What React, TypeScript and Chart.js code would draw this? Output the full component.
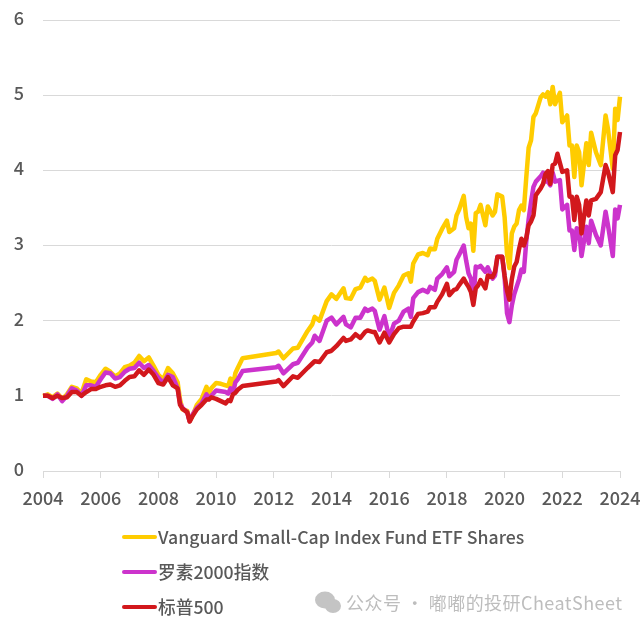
import React, { useEffect, useRef } from "react";
import { Chart, registerables } from "chart.js";

Chart.register(...registerables);

const FONT = '"Noto Sans CJK SC", "Noto Sans", sans-serif';
const TEXT = "#595959";

const seriesNames = ["Vanguard Small-Cap Index Fund ETF Shares", "罗素2000指数", "标普500"];
const seriesColors = ["#FFCC00", "#CC33CC", "#D2181C"];
const watermark = "公众号 · 嘟嘟的投研CheatSheet";

// months since Jan 2004; there is no data between month 83 and month 97
const months = [
  0, 2, 4, 6, 8, 10, 12, 14, 16, 18, 20, 22, 24, 26, 28, 30, 32, 34, 36, 38, 40, 42, 44, 46, 48, 50, 52, 54,
  56, 57, 58, 60, 61, 62, 64, 66, 68, 69, 70, 72, 74, 76, 77, 78, 79, 80, 81, 83,
  97, 98, 100, 104, 106, 110, 112, 113, 115, 118, 120, 122, 125, 126, 128, 130, 132, 134, 135, 137, 138, 140, 142, 144, 146, 148,
  150, 152, 153, 154, 156, 158, 160, 161, 163, 164, 166, 168, 169, 171, 172, 173, 175, 176, 177, 178, 179, 180, 181, 182, 184, 185, 187, 188, 189, 191, 192, 193,
  194, 195, 196, 197, 198, 199, 200, 201, 202, 203,
  204, 205, 207, 208, 209, 210, 211, 212, 213, 214, 215, 216, 218, 219, 220, 221, 222, 223, 224, 226, 227, 228, 230, 232, 234, 235, 237, 238, 239, 240,
];

const vanguard = [
  1.0, 1.02, 0.98, 1.03, 0.96, 1.02, 1.12, 1.1, 1.03, 1.22, 1.19, 1.18, 1.28, 1.36, 1.32, 1.26, 1.3, 1.38, 1.4, 1.44, 1.53, 1.46, 1.51, 1.4, 1.28, 1.22, 1.37, 1.3,
  1.18, 0.95, 0.82, 0.8, 0.66, 0.72, 0.88, 0.96, 1.12, 1.04, 1.1, 1.17, 1.16, 1.14, 1.13, 1.23, 1.13, 1.3, 1.37, 1.5,
  1.57, 1.59, 1.5, 1.63, 1.64, 1.86, 1.95, 2.05, 2.0, 2.26, 2.35, 2.29, 2.43, 2.3, 2.29, 2.42, 2.44, 2.57, 2.53, 2.56, 2.53, 2.28, 2.44, 2.17, 2.37, 2.47,
  2.6, 2.63, 2.52, 2.76, 2.88, 2.9, 2.87, 2.96, 2.95, 3.09, 3.22, 3.33, 3.18, 3.23, 3.4, 3.47, 3.66, 3.38, 3.23, 3.29, 2.93, 3.43, 3.45, 3.54, 3.27, 3.52, 3.4, 3.45, 3.68, 3.65, 3.38, 2.89,
  2.7, 3.16, 3.25, 3.29, 3.47, 3.53, 3.47, 3.9, 4.3, 4.4,
  4.71, 4.76, 4.97, 5.01, 4.98, 5.04, 4.88, 5.11, 4.88, 4.96, 5.03, 4.64, 4.73, 4.33, 4.33, 3.91, 4.33, 4.24, 3.8, 4.36, 4.07, 4.5, 4.24, 4.07, 4.73, 4.55, 4.02, 4.82, 4.67, 4.98,
];

const russell2000 = [
  1.0, 1.0, 0.96, 1.02, 0.93, 1.0, 1.1, 1.07, 1.0, 1.14, 1.14, 1.12, 1.22, 1.31, 1.3, 1.23, 1.25, 1.32, 1.36, 1.37, 1.44, 1.37, 1.41, 1.33, 1.24, 1.17, 1.28, 1.25,
  1.1, 0.9, 0.84, 0.78, 0.66, 0.74, 0.84, 0.9, 1.02, 0.96, 1.0, 1.07, 1.06, 1.05, 1.03, 1.1, 1.03, 1.18, 1.22, 1.33,
  1.38, 1.4, 1.3, 1.42, 1.44, 1.64, 1.71, 1.8, 1.73, 2.0, 2.04, 1.95, 2.05, 1.95, 1.91, 2.04, 2.04, 2.16, 2.13, 2.16, 2.13, 1.88, 2.06, 1.77, 1.96, 2.0,
  2.12, 2.16, 2.05, 2.3, 2.38, 2.41, 2.38, 2.45, 2.41, 2.56, 2.62, 2.71, 2.59, 2.65, 2.81, 2.87, 3.0, 2.8, 2.63, 2.56, 2.26, 2.72, 2.71, 2.73, 2.65, 2.71, 2.56, 2.6, 2.85, 2.85, 2.58, 2.1,
  1.98, 2.2, 2.35, 2.45, 2.55, 2.68, 2.65, 3.05, 3.35, 3.58,
  3.78, 3.85, 3.92, 3.97, 3.85, 3.85, 3.8, 3.97, 3.85, 3.86, 3.87, 3.48, 3.54, 3.2, 3.2, 2.94, 3.23, 3.2, 2.86, 3.25, 3.03, 3.33, 3.14, 3.0, 3.45, 3.27, 2.86, 3.48, 3.36, 3.54,
];

const sp500 = [
  1.0, 1.0, 0.97, 1.0, 0.97, 0.98, 1.05, 1.05, 1.0, 1.05, 1.09, 1.09, 1.12, 1.14, 1.15, 1.12, 1.14, 1.2, 1.25, 1.26, 1.34, 1.28, 1.35, 1.28, 1.17, 1.15, 1.25, 1.14,
  1.1, 0.88, 0.83, 0.78, 0.66, 0.72, 0.82, 0.88, 0.95, 0.95, 0.98, 0.96, 0.93, 0.9, 0.94, 0.93, 1.02, 1.04, 1.08, 1.13,
  1.19, 1.21, 1.13, 1.26, 1.24, 1.37, 1.43, 1.46, 1.45, 1.58, 1.6, 1.66, 1.77, 1.73, 1.75, 1.82, 1.77, 1.85, 1.87, 1.85, 1.85, 1.71, 1.84, 1.71, 1.82, 1.9,
  1.92, 1.92, 1.92, 1.99, 2.09, 2.1, 2.12, 2.18, 2.18, 2.25, 2.35, 2.49, 2.34, 2.41, 2.42, 2.47, 2.56, 2.5, 2.45, 2.38, 2.21, 2.43, 2.47, 2.54, 2.43, 2.6, 2.58, 2.65, 2.85, 2.85, 2.6, 2.4,
  2.28, 2.55, 2.72, 2.78, 2.95, 3.09, 3.0, 3.1, 3.27, 3.32,
  3.4, 3.67, 3.76, 3.82, 3.95, 3.99, 3.82, 4.07, 4.09, 4.22, 4.1, 3.98, 4.0, 3.65, 3.65, 3.34, 3.65, 3.54, 3.16, 3.6, 3.4, 3.6, 3.62, 3.71, 4.07, 3.98, 3.71, 4.2, 4.27, 4.51,
];

const seriesValues = [vanguard, russell2000, sp500];

const legendPlugin = {
  id: "stackedLegend",
  afterDraw(chart: any) {
    const { ctx } = chart;
    ctx.save();
    chart.data.datasets.forEach((ds: any, i: number) => {
      const y = 537 + i * 35;
      ctx.strokeStyle = ds.borderColor;
      ctx.lineWidth = 4;
      ctx.lineCap = "round";
      ctx.beginPath();
      ctx.moveTo(124, y);
      ctx.lineTo(155, y);
      ctx.stroke();
      ctx.fillStyle = TEXT;
      ctx.font = `500 17.7px ${FONT}`;
      ctx.textAlign = "left";
      ctx.textBaseline = "middle";
      ctx.fillText(ds.label, 158, y);
    });
    // watermark
    ctx.fillStyle = "#c4c4c4";
    ctx.beginPath();
    ctx.ellipse(325, 600, 10, 8.5, 0, 0, Math.PI * 2);
    ctx.fill();
    ctx.beginPath();
    ctx.ellipse(333, 606, 8, 7, 0, 0, Math.PI * 2);
    ctx.fill();
    ctx.fillStyle = "#bdbdbd";
    ctx.font = `18px ${FONT}`;
    ctx.letterSpacing = "0.45px";
    ctx.fillText(watermark, 346, 603);
    ctx.restore();
  },
};

export default function App() {
  const ref = useRef<HTMLCanvasElement>(null);
  useEffect(() => {
    document.body.style.margin = "0";
    const chart = new Chart(ref.current as HTMLCanvasElement, {
      type: "line",
      data: {
        datasets: seriesNames.map((label, i) => ({
          label,
          data: months.map((m, k) => ({ x: m, y: seriesValues[i][k] })),
          borderColor: seriesColors[i],
          backgroundColor: seriesColors[i],
          borderWidth: 4.5,
          pointRadius: 0,
          tension: 0,
          borderJoinStyle: "round",
          clip: false,
          order: 3 - i,
        })),
      },
      options: {
        responsive: false,
        animation: false,
        layout: { padding: { top: 20, left: 0, right: 22, bottom: 0 } },
        plugins: { legend: { display: false }, tooltip: { enabled: false } },
        scales: {
          x: {
            type: "linear",
            min: 0,
            max: 240,
            afterFit: (s: any) => {
              s.height = 158;
              s.paddingLeft = 0;
              s.paddingRight = 0;
            },
            border: { color: "#d9d9d9", width: 1 },
            grid: { drawOnChartArea: false, drawTicks: true, tickLength: 7, color: "#d9d9d9" },
            ticks: {
              stepSize: 24,
              autoSkip: false,
              maxRotation: 0,
              padding: 9,
              color: TEXT,
              font: { family: FONT, size: 18, weight: "500" },
              callback: (v: any) => String(2004 + v / 12),
            },
          },
          y: {
            min: 0,
            max: 6,
            afterFit: (s: any) => {
              s.width = 43;
              s.paddingTop = 0;
              s.paddingBottom = 0;
            },
            border: { display: false },
            grid: { color: "#d9d9d9", drawTicks: false },
            ticks: {
              stepSize: 1,
              padding: 19,
              labelOffset: -2,
              color: TEXT,
              font: { family: FONT, size: 18, weight: "500" },
            },
          },
        },
      },
      plugins: [legendPlugin],
    } as any);
    return () => chart.destroy();
  }, []);
  return <canvas ref={ref} width={642} height={629} style={{ display: "block" }} />;
}
